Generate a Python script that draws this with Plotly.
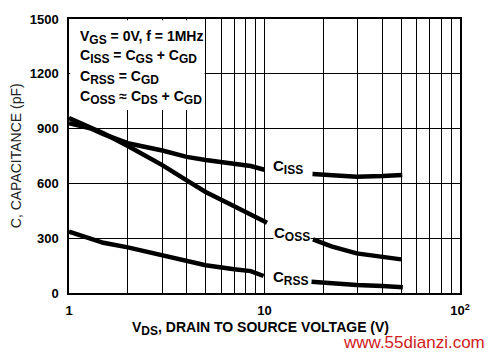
import math
import plotly.graph_objects as go

# Data, None marks gaps where curve labels sit
ciss_v = [1, 1.3, 1.5, 2, 3, 4, 5, 7, 8.5, 10, None, 17.6, 22, 29.6, 40, 50.7]
ciss_c = [930, 900, 870, 820, 780, 745, 728, 708, 695, 675, None, 651, 643, 637, 640, 646]

coss_v = [1, 1.3, 1.5, 2, 3, 4, 5, 7, 8.5, 10.3, None, 17.7, 22, 29.6, 40, 50]
coss_c = [958, 905, 875, 805, 700, 617, 553, 475, 427, 385, None, 294, 255, 217, 198, 184]

crss_v = [1, 1.3, 1.5, 2, 3, 4, 5, 7, 8.5, 9.9, None, 17.4, 22, 29.6, 40, 51]
crss_c = [336, 295, 275, 250, 207, 178, 152, 130, 120, 93, None, 62, 52, 44, 38, 31]

y_ticks = [0, 300, 600, 900, 1200, 1500]
x_ticks = [1, 10, 100]
x_ticktext = ["1", "10", "10<sup>2</sup>"]
minor_vals = [2, 3, 4, 5, 6, 7, 8, 9, 20, 30, 40, 50, 60, 70, 80, 90]


def sb(s):
    return "<sub><span style='font-size:12px'>%s</span></sub>" % s


cond_lines = ["V" + sb("GS") + " = 0V, f = 1MHz",
              "C" + sb("ISS") + " = C" + sb("GS") + " + C" + sb("GD"),
              "C" + sb("RSS") + " = C" + sb("GD"),
              "C" + sb("OSS") + " ≈ C" + sb("DS") + " + C" + sb("GD")]

fig = go.Figure()
for xs, ys in [(ciss_v, ciss_c), (coss_v, coss_c), (crss_v, crss_c)]:
    fig.add_trace(go.Scatter(x=xs, y=ys, mode="lines",
                             line=dict(color="black", width=4.5),
                             connectgaps=False, showlegend=False,
                             hoverinfo="skip"))

tick_font = dict(family="Liberation Sans", size=13, color="black", weight="bold")

fig.update_xaxes(type="log", range=[0, 2], tickvals=x_ticks, ticktext=x_ticktext,
                 showgrid=True, gridcolor="black", gridwidth=1,
                 minor=dict(tickvals=minor_vals, showgrid=True, gridcolor="black",
                            gridwidth=1, ticks=""),
                 showline=True, linecolor="black", linewidth=1.5, mirror=True,
                 ticks="", ticklabelstandoff=5, tickfont=tick_font, zeroline=False)
fig.update_yaxes(range=[0, 1500], tickvals=y_ticks,
                 showgrid=True, gridcolor="black", gridwidth=1,
                 showline=True, linecolor="black", linewidth=1.5, mirror=True,
                 ticks="", ticklabelstandoff=6, tickfont=tick_font, zeroline=False)

# white box behind the condition text
fig.add_shape(type="rect", xref="x domain", yref="y domain",
              x0=0.003, x1=0.347, y0=0.668, y1=0.995,
              fillcolor="white", line=dict(width=0), layer="above")

for i, line in enumerate(cond_lines):
    fig.add_annotation(xref="paper", yref="paper", x=0.022,
                       y=1 - (18 + 20 * i) / 274,
                       xanchor="left", yanchor="middle", align="left", showarrow=False,
                       text=line,
                       font=dict(family="Liberation Sans", size=14, color="black",
                                 weight="bold"))

lab_font = dict(family="Liberation Sans", size=15, color="black", weight="bold")
for txt, xv, yv in [("C" + sb("ISS"), 10.9, 690), ("C" + sb("OSS"), 11.1, 322),
                    ("C" + sb("RSS"), 10.9, 80)]:
    fig.add_annotation(x=math.log10(xv), y=yv, text=txt, showarrow=False,
                       xanchor="left", yanchor="middle",
                       bgcolor="white", font=lab_font, borderpad=0)

fig.add_annotation(xref="paper", yref="paper", x=0.49, y=-0.13, showarrow=False,
                   xanchor="center", yanchor="middle",
                   text="V" + sb("DS") + ", DRAIN TO SOURCE VOLTAGE (V)",
                   font=dict(family="Liberation Sans", size=14, color="black", weight="bold"))
fig.add_annotation(xref="paper", yref="paper", x=-0.135, y=0.5, showarrow=False,
                   xanchor="center", yanchor="middle",
                   textangle=-90, text="C, CAPACITANCE (pF)",
                   font=dict(family="Liberation Sans", size=14, color="#222222"))
fig.add_annotation(xref="paper", yref="paper", x=1.07, y=-0.18, xanchor="right",
                   yanchor="middle",
                   showarrow=False, text="www.55dianzi.com",
                   font=dict(family="Liberation Sans", size=17, color="#d02020"))

fig.update_layout(width=492, height=354,
                  margin=dict(l=69, r=32, t=19, b=61),
                  paper_bgcolor="white", plot_bgcolor="white")

fig.write_html("out.html")
